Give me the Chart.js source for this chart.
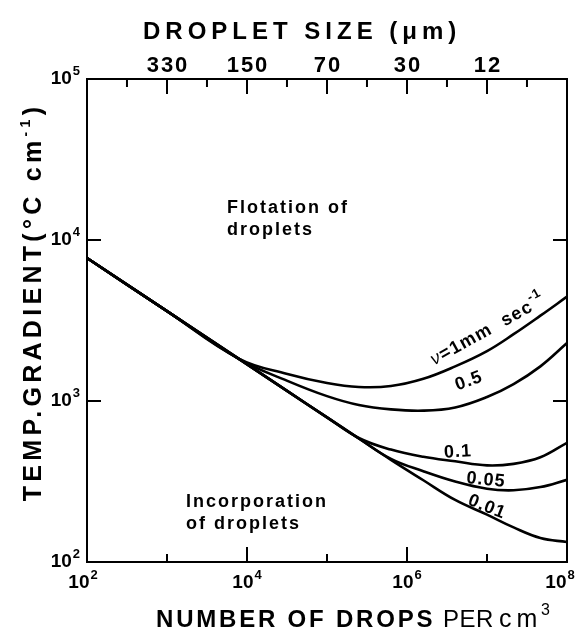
<!DOCTYPE html>
<html>
<head>
<meta charset="utf-8">
<script src="https://cdn.jsdelivr.net/npm/chart.js@4/dist/chart.umd.min.js"></script>
<style>
  html, body { margin: 0; padding: 0; background: #fff; }
</style>
</head>
<body>
<canvas id="chart" width="582" height="635"></canvas>
<script>
// number of drops per cm3 (x positions of the read points)
const drops = [1e2, 1e3, 8e3, 3.2e4, 1e5, 2.5e5, 6.3e5, 1.6e6, 4e6, 1e7, 2.15e7, 4.65e7, 1e8];

// temp. gradient (deg C / cm) for each rise velocity
const grad1mm  = [7730, 3614, 1828, 1472, 1294, 1222, 1239, 1374, 1641, 2042, 2600, 3388, 4446];
const grad05   = [7730, 3614, 1820, 1334, 1072,  944,  887,  871,  912, 1059, 1274, 1641, 2291];
const grad01   = [7730, 3614, 1820, 1151,  791,  589,  499,  450,  422,  398,  407,  447,  550];
const grad005  = [7730, 3614, 1820, 1151,  791,  585,  437,  366,  316,  285,  279,  292,  324];
const grad001  = [7730, 3614, 1820, 1151,  791,  585,  431,  322,  243,  197,  164,  141,  133];

// axes
const xLabelExps = [2, 4, 6, 8];
const xTickDrops = [1e3, 1e4, 1e5, 1e6, 1e7];
const yLabelExps = [2, 3, 4, 5];
const yTickVals = [1e3, 1e4];
const sizeLabels = ['330', '150', '70', '30', '12'];
const sizeTickDrops = [1e3, 1e4, 1e5, 1e6, 1e7];
const sizeMinorDrops = [3.16e2, 3.16e3, 3.16e4, 3.16e5, 3.16e6, 3.16e7];

function toPoints(vals) {
    return drops.map((n, i) => ({ x: n, y: vals[i] }));
}

function lineSet(vals) {
    return {
        data: toPoints(vals),
        borderColor: '#000',
        borderWidth: 2.6,
        pointRadius: 0,
        fill: false,
        tension: 0.4
    };
}

const FONT = '"Liberation Sans", Arial, sans-serif';

// "10" with a raised exponent
function drawPow(ctx, exp, x, y, align) {
    ctx.font = 'bold 19px ' + FONT;
    const wb = ctx.measureText('10').width;
    ctx.font = 'bold 13px ' + FONT;
    const we = ctx.measureText(String(exp)).width;
    const w = wb + 1 + we;
    let x0 = x;
    if (align === 'center') x0 = x - w / 2;
    if (align === 'right') x0 = x - w;
    ctx.textAlign = 'left';
    ctx.font = 'bold 19px ' + FONT;
    ctx.fillText('10', x0, y);
    ctx.font = 'bold 13px ' + FONT;
    ctx.fillText(String(exp), x0 + wb + 1, y - 9);
}

// sequence of text pieces [text, font, dy]
function drawParts(ctx, parts, x, y, spacing) {
    ctx.textAlign = 'left';
    ctx.letterSpacing = spacing + 'px';
    let cx = x;
    parts.forEach(p => {
        ctx.font = p[1];
        ctx.fillText(p[0], cx, y + (p[2] || 0));
        cx += ctx.measureText(p[0]).width;
    });
    ctx.letterSpacing = '0px';
}

function partsWidth(ctx, parts, spacing) {
    ctx.letterSpacing = spacing + 'px';
    let w = 0;
    parts.forEach(p => { ctx.font = p[1]; w += ctx.measureText(p[0]).width; });
    ctx.letterSpacing = '0px';
    return w;
}

function drawRotated(ctx, parts, cx, cy, deg, spacing) {
    ctx.save();
    ctx.translate(cx, cy);
    ctx.rotate(deg * Math.PI / 180);
    const w = partsWidth(ctx, parts, spacing);
    ctx.textBaseline = 'middle';
    drawParts(ctx, parts, -w / 2, 0, spacing);
    ctx.restore();
}

const frame = {
    id: 'frame',
    afterDatasetsDraw(chart) {
        const ctx = chart.ctx;
        const a = chart.chartArea;
        const xs = chart.scales.x;
        const ys = chart.scales.y;
        ctx.save();
        ctx.strokeStyle = '#000';
        ctx.fillStyle = '#000';
        ctx.lineWidth = 2;
        ctx.strokeRect(a.left, a.top, a.right - a.left, a.bottom - a.top);

        // inward ticks
        ctx.beginPath();
        xTickDrops.forEach((n, i) => {
            const x = xs.getPixelForValue(n);
            const len = (i % 2 === 1) ? 15 : 8;
            ctx.moveTo(x, a.bottom); ctx.lineTo(x, a.bottom - len);
        });
        sizeTickDrops.forEach(n => {
            const x = xs.getPixelForValue(n);
            ctx.moveTo(x, a.top); ctx.lineTo(x, a.top + 15);
        });
        sizeMinorDrops.forEach(n => {
            const x = xs.getPixelForValue(n);
            ctx.moveTo(x, a.top); ctx.lineTo(x, a.top + 8);
        });
        yTickVals.forEach(v => {
            const y = ys.getPixelForValue(v);
            ctx.moveTo(a.left, y); ctx.lineTo(a.left + 14, y);
            ctx.moveTo(a.right, y); ctx.lineTo(a.right - 14, y);
        });
        ctx.stroke();

        // tick labels
        ctx.textBaseline = 'alphabetic';
        xLabelExps.forEach(e => {
            let x = xs.getPixelForValue(Math.pow(10, e));
            if (e === 2) x -= 4;
            if (e === 8) x -= 7;
            drawPow(ctx, e, x, a.bottom + 26, 'center');
        });
        yLabelExps.forEach(e => {
            const y = ys.getPixelForValue(Math.pow(10, e));
            drawPow(ctx, e, a.left - 7, y + 5, 'right');
        });
        ctx.textAlign = 'center';
        ctx.font = 'bold 22px ' + FONT;
        ctx.letterSpacing = '2px';
        sizeLabels.forEach((s, i) => {
            const x = xs.getPixelForValue(sizeTickDrops[i]);
            ctx.fillText(s, x + 1, a.top - 7);
        });
        ctx.letterSpacing = '0px';

        // axis titles
        const B24 = 'bold 24px ' + FONT;
        const R24 = '24px ' + FONT;
        drawParts(ctx, [['DROPLET SIZE (\u03BCm)', B24]], 143, 39, 5);
        drawParts(ctx, [['NUMBER OF DROPS', B24]], 156, 627, 2.8);
        drawParts(ctx, [['PER', R24]], 443, 627, 0.5);
        drawParts(ctx, [['cm', '25px ' + FONT]], 499, 627, 5);
        drawParts(ctx, [['3', '16px ' + FONT]], 541, 615, 0);

        ctx.save();
        ctx.translate(41, 302);
        ctx.rotate(-Math.PI / 2);
        const B25 = 'bold 25px ' + FONT;
        const yParts = [['TEMP.GRADIENT(\u00B0C cm', B25], ['-1', 'bold 14px ' + FONT, -11], [')', B25]];
        const yw = partsWidth(ctx, yParts, 4.3);
        drawParts(ctx, yParts, -yw / 2, 0, 4.3);
        ctx.restore();

        // region notes
        const B18 = 'bold 18px ' + FONT;
        drawParts(ctx, [['Flotation of', B18]], 227, 213, 2);
        drawParts(ctx, [['droplets', B18]], 227, 235, 2);
        drawParts(ctx, [['Incorporation', B18]], 186, 507, 2);
        drawParts(ctx, [['of droplets', B18]], 186, 529, 2);

        // curve labels
        const B18c = 'bold 18px ' + FONT;
        drawRotated(ctx, [['\u03BD', 'italic 18px ' + FONT], ['=1mm  sec', B18c], ['-1', 'bold 13px ' + FONT, -8]], 488, 330, -29, 1.3);
        drawRotated(ctx, [['0.5', B18c]], 469, 381, -20, 1);
        drawRotated(ctx, [['0.1', B18c]], 458, 452, -3, 1);
        drawRotated(ctx, [['0.05', B18c]], 486, 480, 6, 1);
        drawRotated(ctx, [['0.01', B18c]], 487, 507, 22, 1);
        ctx.restore();
    }
};

new Chart(document.getElementById('chart'), {
    type: 'line',
    data: {
        datasets: [lineSet(grad1mm), lineSet(grad05), lineSet(grad01), lineSet(grad005), lineSet(grad001)]
    },
    options: {
        responsive: false,
        devicePixelRatio: 1,
        animation: false,
        layout: { padding: { left: 87, top: 79, right: 15, bottom: 73 } },
        plugins: { legend: { display: false }, tooltip: { enabled: false } },
        scales: {
            x: { type: 'logarithmic', min: 1e2, max: 1e8, display: false },
            y: { type: 'logarithmic', min: 1e2, max: 1e5, display: false }
        }
    },
    plugins: [frame]
});
</script>
</body>
</html>
